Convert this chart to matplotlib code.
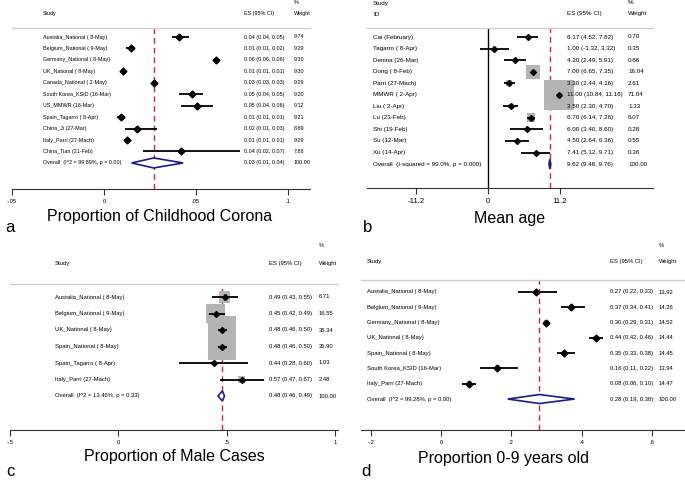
import matplotlib.pyplot as plt
from matplotlib.patches import Polygon

plt.rcParams['font.family'] = ['Liberation Sans', 'DejaVu Sans']

W, H = 685, 482

# (a) proportion of childhood cases
a_study = ["Austalia_National ( 8-May)", "Belgium_National ( 9-May)", "Germany_National ( 8-May)",
           "UK_National ( 8-May)", "Canada_National ( 2-May)", "South Korea_KSID (16-Mar)",
           "US_MMWR (16-Mar)", "Spain_Tagarro ( 8-Apr)", "China_Ji (27-Mar)",
           "Italy_Parri (27-Mach)", "China_Tian (21-Feb)"]
a_es = [0.041, 0.0147, 0.061, 0.0103, 0.027, 0.048, 0.0505, 0.009, 0.018, 0.0125, 0.042]
a_lo = [0.037, 0.012, 0.059, 0.009, 0.026, 0.041, 0.042, 0.007, 0.0114, 0.011, 0.021]
a_hi = [0.046, 0.017, 0.063, 0.012, 0.028, 0.054, 0.059, 0.0114, 0.029, 0.014, 0.074]
a_es_txt = ["0.04 (0.04, 0.05)", "0.01 (0.01, 0.02)", "0.06 (0.06, 0.06)", "0.01 (0.01, 0.01)",
            "0.03 (0.03, 0.03)", "0.05 (0.04, 0.05)", "0.05 (0.04, 0.06)", "0.01 (0.01, 0.01)",
            "0.02 (0.01, 0.03)", "0.01 (0.01, 0.01)", "0.04 (0.02, 0.07)"]
a_wt = [9.74, 9.29, 9.30, 9.30, 9.29, 9.20, 9.12, 9.21, 8.89, 9.29, 7.88]
a_overall = [0.027, 0.015, 0.043]
a_overall_label = "Overall  (I^2 = 99.89%, p = 0.00)"
a_overall_txt = "0.03 (0.01, 0.04)"
a_ticks = [-0.05, 0, 0.05, 0.1]
a_ticklabels = ["-.05", "0", ".05", ".1"]

# (b) mean age
b_study = ["Cai (February)", "Tagarro ( 8-Apr)", "Denina (26-Mar)", "Dong ( 8-Feb)",
           "Parri (27-Mach)", "MMWR ( 2-Apr)", "Liu ( 2-Apr)", "Lu (23-Feb)",
           "Shi (19-Feb)", "Su (12-Mar)", "Xu (14-Apr)"]
b_es = [6.17, 1.00, 4.20, 7.00, 3.30, 11.00, 3.50, 6.70, 6.00, 4.50, 7.41]
b_lo = [4.52, -1.32, 2.49, 6.65, 2.44, 10.84, 2.30, 6.14, 3.40, 2.64, 5.12]
b_hi = [7.82, 3.32, 5.91, 7.35, 4.16, 11.16, 4.70, 7.26, 8.60, 6.36, 9.71]
b_wt = [0.70, 0.35, 0.66, 16.04, 2.61, 71.04, 1.33, 6.07, 0.28, 0.55, 0.36]
b_overall = [9.62, 9.48, 9.76]
b_overall_label = "Overall  (I-squared = 99.0%, p = 0.000)"
b_ticks = [-11.2, 0, 11.2]
b_ticklabels = ["-11.2", "0", "11.2"]

# (c) proportion of male cases
c_study = ["Austalia_National ( 8-May)", "Belgium_National ( 9-May)", "UK_National ( 8-May)",
           "Spain_National ( 8-May)", "Spain_Tagarro ( 8-Apr)", "Italy_Parri (27-Mach)"]
c_es = [0.49, 0.45, 0.48, 0.48, 0.44, 0.57]
c_lo = [0.43, 0.42, 0.46, 0.46, 0.28, 0.47]
c_hi = [0.55, 0.49, 0.50, 0.50, 0.60, 0.67]
c_wt = [6.71, 16.55, 36.34, 36.90, 1.03, 2.48]
c_overall = [0.48, 0.46, 0.49]
c_overall_label = "Overall  (I^2 = 13.46%, p = 0.33)"
c_ticks = [-0.5, 0, 0.5, 1]
c_ticklabels = ["-.5", "0", ".5", "1"]

# (d) proportion 0-9 years old
d_study = ["Austalia_National ( 8-May)", "Belgium_National ( 9-May)", "Germany_National ( 8-May)",
           "UK_National ( 8-May)", "Spain_National ( 8-May)", "South Korea_KSID (16-Mar)",
           "Italy_Parri (27-Mach)"]
d_es = [0.27, 0.37, 0.30, 0.44, 0.35, 0.16, 0.08]
d_lo = [0.22, 0.34, 0.29, 0.42, 0.33, 0.11, 0.06]
d_hi = [0.33, 0.41, 0.31, 0.46, 0.38, 0.22, 0.10]
d_wt = [13.92, 14.26, 14.52, 14.44, 14.45, 13.94, 14.47]
d_overall = [0.28, 0.19, 0.38]
d_overall_label = "Overall  (I^2 = 99.28%, p = 0.00)"
d_ticks = [-0.2, 0, 0.2, 0.4, 0.6]
d_ticklabels = ["-.2", "0", ".2", ".4", ".6"]

RED = '#c8283c'
NAVY = '#1c1c8c'

fig = plt.figure(figsize=(W / 100, H / 100), dpi=100)


def ftext(x, y, s, **kw):
    # x, y in pixels from the top left corner
    fig.text(x / W, 1 - y / H, s, va='center', **kw)


def forest(lay, study, es, lo, hi, wt, es_txt, wt_txt, ov, ov_label, ov_txt,
           ticks, ticklabels, headers):
    x0, x1, sep, base = lay['x0'], lay['x1'], lay['sep'], lay['axis']
    first, step = lay['first'], lay['step']
    ax = fig.add_axes([x0 / W, 1 - base / H, (x1 - x0) / W, (base - sep) / H])
    ax.set_xlim(lay['xlim'])
    ax.set_ylim((base - first) / step, (sep - first) / step)
    n = len(study)
    rows = list(range(n))

    sizes = [(lay['box'] * 0.72) ** 2 * w for w in wt]
    ax.scatter(es, rows, marker='s', s=sizes, color='#b4b4b4', lw=0, zorder=2)
    ax.hlines(rows, lo, hi, color='black', lw=1.3, zorder=3)
    ax.plot(es, rows, 'D', color='black', ms=lay['mk'], zorder=4)

    e, l, h = ov
    d = lay['dh'] / step
    ax.add_patch(Polygon([(l, n), (e, n - d), (h, n), (e, n + d)], closed=True,
                         fc=lay['dfill'], ec=NAVY, lw=1.2, zorder=5))
    ax.axvline(e, color=RED, ls=(0, (4, 3)), lw=1, zorder=1)
    if lay.get('zero'):
        ax.axvline(0, color='black', lw=1, zorder=1)
    ax.axhline((sep - first) / step, color='#cfcfcf', lw=1, clip_on=False)

    for s in ['top', 'left', 'right']:
        ax.spines[s].set_visible(False)
    ax.spines['bottom'].set_color('#333333')
    ax.set_yticks([])
    ax.set_xticks(ticks)
    ax.set_xticklabels(ticklabels)
    ax.tick_params(axis='x', labelsize=lay['tfs'], length=4, pad=3, color='#333333')

    fs = lay['fs']
    sx, ex, wx = lay['cols']
    for i, lab in enumerate(study + [ov_label]):
        y = first + i * step
        ftext(sx, y, lab, fontsize=fs)
        ftext(ex, y, (es_txt + [ov_txt])[i], fontsize=fs)
        ftext(wx, y, (wt_txt + ["100.00"])[i], fontsize=fs)
    for s, x, y in headers:
        ftext(x, y, s, fontsize=fs)
    return ax


def fmt(es, lo, hi):
    return ["%.2f (%.2f, %.2f)" % t for t in zip(es, lo, hi)]


def wfmt(wt):
    return ["%.2f" % w for w in wt]


# panel a
lay_a = dict(x0=12, x1=310, xlim=(-0.05, -0.05 + 298 / 1840), first=37, step=11.45,
             sep=28, axis=189, cols=(43, 244, 294), box=1.2, mk=3.5, dh=5,
             dfill='white', fs=3.9, tfs=4.2)
forest(lay_a, a_study, a_es, a_lo, a_hi, a_wt, a_es_txt, wfmt(a_wt), a_overall,
       a_overall_label, a_overall_txt, a_ticks, a_ticklabels,
       [("Study", 43, 14), ("ES (95% CI)", 244, 14), ("%", 294, 3), ("Weight", 294, 14)])

# panel b
lay_b = dict(x0=367, x1=653, xlim=(-121 / 6.43, 165 / 6.43), first=37, step=11.55,
             sep=28, axis=188, cols=(373, 567, 628), box=3.56, mk=3, dh=5,
             dfill=NAVY, fs=4.5, tfs=5.6, zero=True)
forest(lay_b, b_study, b_es, b_lo, b_hi, b_wt, fmt(b_es, b_lo, b_hi), wfmt(b_wt), b_overall,
       b_overall_label, fmt(*[[v] for v in b_overall])[0], b_ticks, b_ticklabels,
       [("Study", 373, 3), ("ID", 373, 14), ("ES (95% CI)", 567, 14), ("%", 628, 3),
        ("Weight", 628, 14)])

# panel c
lay_c = dict(x0=10, x1=338, xlim=(-108 / 217, 220 / 217), first=297, step=16.5,
             sep=284, axis=430, cols=(55, 269, 319), box=4.6, mk=3, dh=5,
             dfill='white', fs=4.2, tfs=4.2)
forest(lay_c, c_study, c_es, c_lo, c_hi, c_wt, fmt(c_es, c_lo, c_hi), wfmt(c_wt), c_overall,
       c_overall_label, fmt(*[[v] for v in c_overall])[0], c_ticks, c_ticklabels,
       [("Study", 55, 264), ("ES (95% CI)", 269, 264), ("%", 319, 246), ("Weight", 319, 264)])

# panel d
lay_d = dict(x0=361, x1=685, xlim=(-80 / 351.5, 244 / 351.5), first=292, step=15.29,
             sep=280, axis=430, cols=(367, 610, 659), box=1.2, mk=3.5, dh=4.5,
             dfill='white', fs=4.2, tfs=4.2)
forest(lay_d, d_study, d_es, d_lo, d_hi, d_wt, fmt(d_es, d_lo, d_hi), wfmt(d_wt), d_overall,
       d_overall_label, fmt(*[[v] for v in d_overall])[0], d_ticks, d_ticklabels,
       [("Study", 367, 262), ("ES (95% CI)", 610, 262), ("%", 659, 246), ("Weight", 659, 262)])

# titles and panel letters
fig.text(160 / W, 1 - 217 / H, "Proportion of Childhood Corona", fontsize=11.5, ha='center', va='center')
fig.text(510 / W, 1 - 219 / H, "Mean age", fontsize=11.5, ha='center', va='center')
fig.text(174 / W, 1 - 457 / H, "Proportion of Male Cases", fontsize=11.5, ha='center', va='center')
fig.text(503 / W, 1 - 458 / H, "Proportion 0-9 years old", fontsize=11.5, ha='center', va='center')
for letter, x, y in [("a", 5, 227), ("b", 363, 227), ("c", 6, 472), ("d", 361, 472)]:
    fig.text(x / W, 1 - y / H, letter, fontsize=12, va='center')

fig.savefig("out.png", dpi=100)
